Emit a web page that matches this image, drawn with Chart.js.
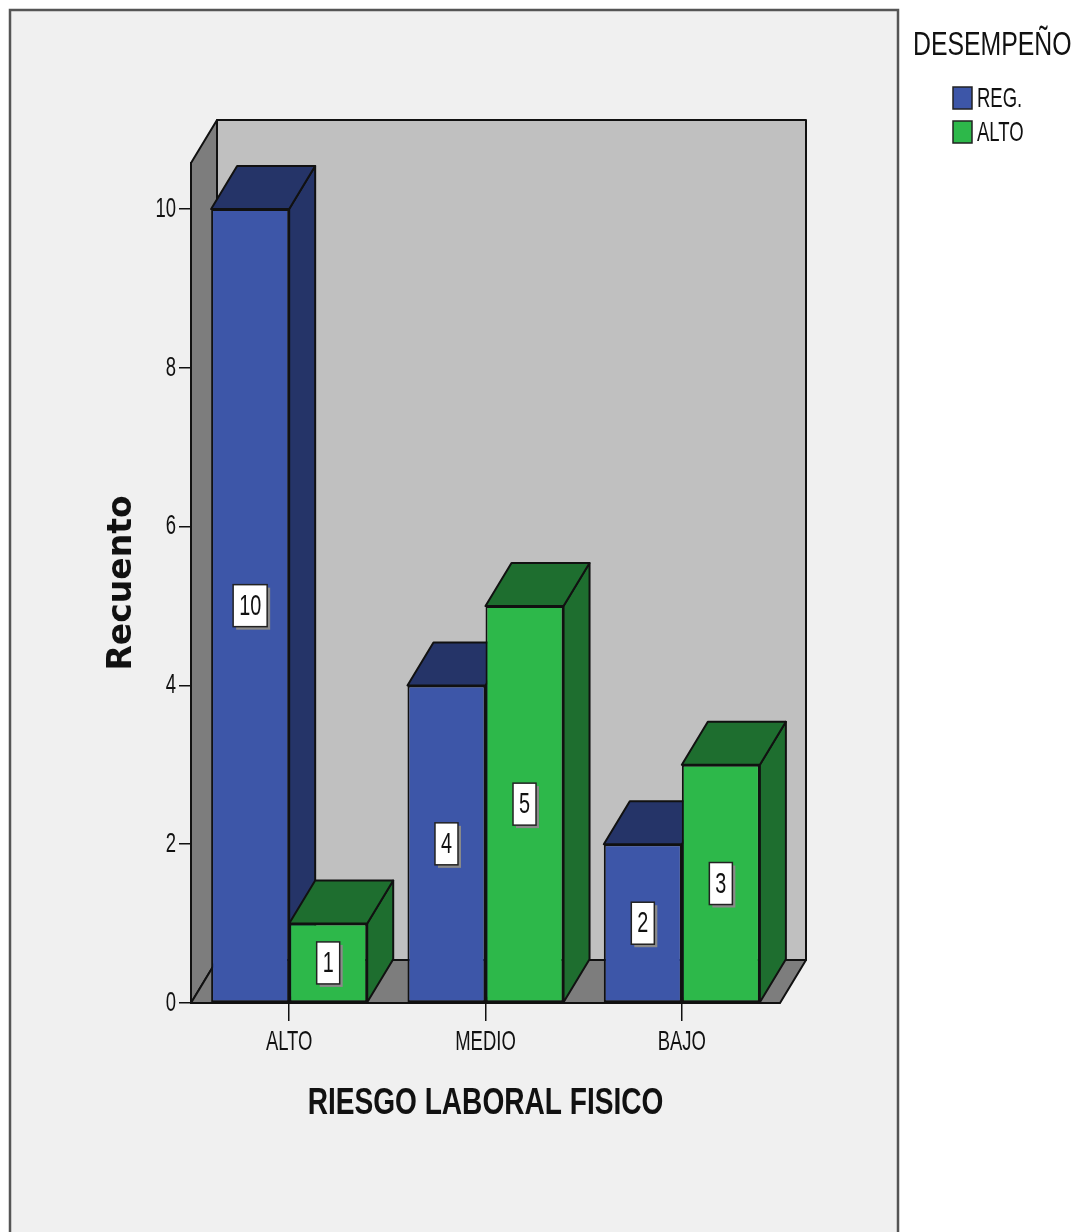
<!DOCTYPE html>
<html>
<head>
<meta charset="utf-8">
<script src="https://cdn.jsdelivr.net/npm/chart.js@4.4.1/dist/chart.umd.min.js"></script>
<style>
  body { margin: 0; background: #ffffff; }
  canvas { display: block; }
</style>
</head>
<body>
<canvas id="riesgoChart" width="1083" height="1232"></canvas>
<script>
// data
const categories = ['ALTO', 'MEDIO', 'BAJO'];
const seriesNames = ['REG.', 'ALTO'];
const regValues = [10, 4, 2];
const altoValues = [1, 5, 3];
const yTicks = [0, 2, 4, 6, 8, 10];
const yMax = 10.58;

const SANS = '"Liberation Sans", Arial, sans-serif';
const frontColors = ['#3d56a8', '#2db84a'];
const darkColors = ['#253468', '#1e6e2f'];
const DX = 26, DY = -43;   // depth of the 3D look

// the original uses a condensed Arial; squeeze Liberation Sans sideways
function squeezeFor(font) {
  if (font.indexOf('DejaVu') >= 0) return 1;
  if (font.indexOf('bold') >= 0) return 0.78;
  if (font.indexOf('34px') >= 0) return 0.73;
  return 0.66;
}

function poly(ctx, pts, fill) {
  ctx.beginPath();
  ctx.moveTo(pts[0][0], pts[0][1]);
  for (let i = 1; i < pts.length; i++) ctx.lineTo(pts[i][0], pts[i][1]);
  ctx.closePath();
  ctx.fillStyle = fill;
  ctx.fill();
  ctx.stroke();
}

const wallsPlugin = {
  id: 'walls',
  beforeInit(chart) {
    const ctx = chart.ctx;
    const baseFill = CanvasRenderingContext2D.prototype.fillText;
    ctx.fillText = function (text, x, y) {
      const f = squeezeFor(this.font);
      if (f === 1) return baseFill.call(this, text, x, y);
      this.save();
      this.translate(x, y);
      this.scale(f, 1);
      baseFill.call(this, text, 0, 0);
      this.restore();
    };
  },
  // frame, back wall, left wall and floor
  beforeDraw(chart) {
    const ctx = chart.ctx;
    const {left, right, top, bottom} = chart.chartArea;
    ctx.save();
    ctx.fillStyle = '#ffffff';
    ctx.fillRect(0, 0, chart.width, chart.height);
    ctx.fillStyle = '#f0f0f0';
    ctx.fillRect(10, 10, 888, chart.height);
    ctx.strokeStyle = '#555';
    ctx.lineWidth = 2.5;
    ctx.strokeRect(10, 10, 888, chart.height + 10);

    ctx.strokeStyle = '#111';
    ctx.lineWidth = 2;
    ctx.lineJoin = 'round';
    poly(ctx, [[left + DX, top + DY], [right + DX, top + DY], [right + DX, bottom + DY], [left + DX, bottom + DY]], '#c0c0c0');
    poly(ctx, [[left, bottom], [left, top], [left + DX, top + DY], [left + DX, bottom + DY]], '#7d7d7d');
    poly(ctx, [[left, bottom], [left + DX, bottom + DY], [right + DX, bottom + DY], [right, bottom]], '#7d7d7d');
    ctx.restore();
  },
  // top and side faces of every bar, drawn before the fronts
  beforeDatasetsDraw(chart) {
    const ctx = chart.ctx;
    ctx.save();
    ctx.strokeStyle = '#111';
    ctx.lineWidth = 2;
    ctx.lineJoin = 'round';
    categories.forEach((c, i) => {
      chart.data.datasets.forEach((ds, d) => {
        const bar = chart.getDatasetMeta(d).data[i];
        const l = bar.x - bar.width / 2, r = bar.x + bar.width / 2;
        const y = bar.y, b = bar.base;
        poly(ctx, [[r, y], [r + DX, y + DY], [r + DX, b + DY], [r, b]], darkColors[d]);
        poly(ctx, [[l, y], [r, y], [r + DX, y + DY], [l + DX, y + DY]], darkColors[d]);
      });
    });
    ctx.restore();
  },
  // value boxes and legend
  afterDatasetsDraw(chart) {
    const ctx = chart.ctx;
    ctx.save();
    ctx.font = '30px ' + SANS;
    ctx.textAlign = 'center';
    ctx.textBaseline = 'middle';
    const f = squeezeFor(ctx.font);
    chart.data.datasets.forEach((ds, d) => {
      chart.getDatasetMeta(d).data.forEach((bar, i) => {
        const txt = String(ds.data[i]);
        const cx = bar.x, cy = (bar.y + bar.base) / 2;
        const w = ctx.measureText(txt).width * f + 12, h = 42;
        ctx.fillStyle = '#8a8a8a';
        ctx.fillRect(cx - w / 2 + 3, cy - h / 2 + 3, w, h);
        ctx.fillStyle = '#ffffff';
        ctx.fillRect(cx - w / 2, cy - h / 2, w, h);
        ctx.strokeStyle = '#222';
        ctx.lineWidth = 1.5;
        ctx.strokeRect(cx - w / 2, cy - h / 2, w, h);
        ctx.fillStyle = '#111';
        ctx.fillText(txt, cx, cy + 1);
      });
    });

    ctx.textAlign = 'left';
    ctx.font = '34px ' + SANS;
    ctx.fillStyle = '#111';
    ctx.fillText('DESEMPEÑO', 913, 46);
    ctx.font = '28px ' + SANS;
    chart.data.datasets.forEach((ds, d) => {
      const y = 87 + d * 34;
      ctx.fillStyle = frontColors[d];
      ctx.fillRect(953, y, 19, 22);
      ctx.strokeStyle = '#222';
      ctx.lineWidth = 1.5;
      ctx.strokeRect(953, y, 19, 22);
      ctx.fillStyle = '#111';
      ctx.fillText(ds.label, 977, y + 12);
    });
    ctx.restore();
  }
};

new Chart(document.getElementById('riesgoChart'), {
  type: 'bar',
  data: {
    labels: categories,
    datasets: [
      { label: seriesNames[0], data: regValues, backgroundColor: frontColors[0] },
      { label: seriesNames[1], data: altoValues, backgroundColor: frontColors[1] }
    ]
  },
  options: {
    responsive: false,
    animation: false,
    layout: { padding: { top: 163, right: 303, left: 0, bottom: 0 } },
    datasets: {
      bar: {
        borderColor: '#111',
        borderWidth: 2,
        borderSkipped: false,
        categoryPercentage: 0.795,
        barPercentage: 1
      }
    },
    plugins: {
      legend: { display: false },
      tooltip: { enabled: false }
    },
    scales: {
      x: {
        afterFit(scale) { scale.height = 229; },
        grid: { drawOnChartArea: false, offset: false, tickLength: 18, color: '#111', lineWidth: 1.5 },
        border: { color: '#111', width: 2 },
        ticks: { color: '#111', padding: 4, font: { family: SANS, size: 28 } },
        title: {
          display: true,
          text: 'RIESGO LABORAL FISICO',
          color: '#111',
          font: { family: SANS, size: 36, weight: 'bold' },
          padding: { top: 0, bottom: 106 }
        }
      },
      y: {
        min: 0,
        max: yMax,
        afterFit(scale) { scale.width = 191; },
        afterBuildTicks(scale) { scale.ticks = yTicks.map(v => ({ value: v })); },
        grid: { drawOnChartArea: false, tickLength: 12, color: '#111', lineWidth: 1.5 },
        border: { color: '#111', width: 2 },
        ticks: { color: '#111', padding: 3, font: { family: SANS, size: 28 } },
        title: {
          display: true,
          text: 'Recuento',
          color: '#111',
          font: { family: '"DejaVu Sans", sans-serif', size: 33, weight: 'bold' },
          padding: { top: 103, bottom: 0 }
        }
      }
    }
  },
  plugins: [wallsPlugin]
});
</script>
</body>
</html>
